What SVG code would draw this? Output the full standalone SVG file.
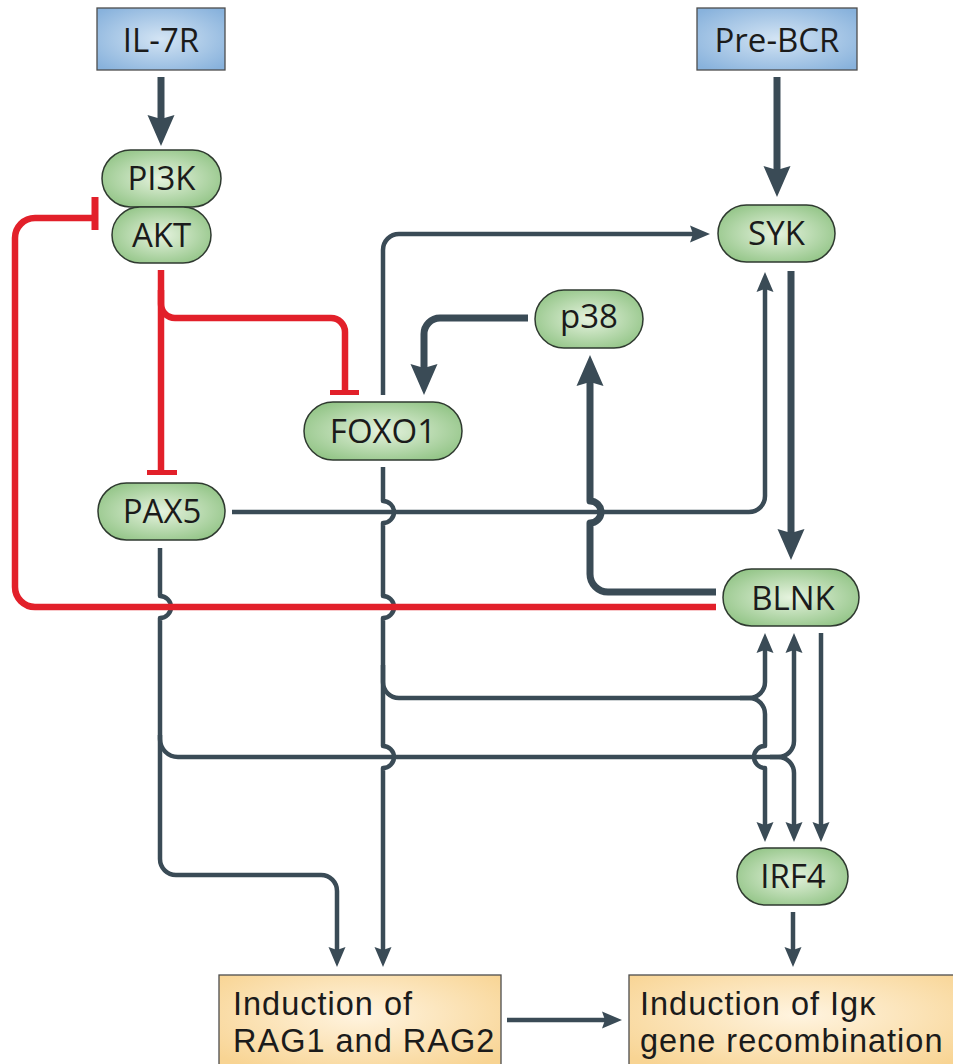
<svg xmlns="http://www.w3.org/2000/svg" width="953" height="1064" viewBox="0 0 953 1064">
<defs>
<radialGradient id="gGreen" cx="50%" cy="50%" r="62%"><stop offset="0" stop-color="#e6f3df"/><stop offset="1" stop-color="#8ec282"/></radialGradient>
<radialGradient id="gBlue" cx="50%" cy="50%" r="65%"><stop offset="0" stop-color="#d3e4f4"/><stop offset="1" stop-color="#88b2dc"/></radialGradient>
<radialGradient id="gBeige" cx="50%" cy="40%" r="65%"><stop offset="0" stop-color="#fff4e0"/><stop offset="1" stop-color="#f8d493"/></radialGradient>
<marker id="ah" markerUnits="userSpaceOnUse" orient="auto" viewBox="-20 -20 40 40" markerWidth="40" markerHeight="40" refX="0" refY="0" overflow="visible"><path d="M-6,-8.5 L14,0 L-6,8.5 L-3,0 Z" fill="#3a4b56"/></marker>
<marker id="ahT" markerUnits="userSpaceOnUse" orient="auto" viewBox="-30 -30 60 60" markerWidth="60" markerHeight="60" refX="0" refY="0" overflow="visible"><path d="M-9,-13.5 L22,0 L-9,13.5 L-5,0 Z" fill="#3a4b56"/></marker>
</defs>
<style>
.box{stroke:#4d4d4d;stroke-width:1.3}
.blue{fill:url(#gBlue)}
.beige{fill:url(#gBeige)}
.pill{fill:url(#gGreen);stroke:#2f3a30;stroke-width:1.5}
text{font-family:"Open Sans","Noto Sans","DejaVu Sans",sans-serif;font-size:33px;fill:#1b1b1b}
text.bt{font-family:"Liberation Sans",Arial,sans-serif;font-size:32.5px;letter-spacing:1px}
.c{text-anchor:middle}
.ln{fill:none;stroke:#3a4b56;stroke-linejoin:round}
.thin{stroke-width:4.5;marker-end:url(#ah)}
.thick{stroke-width:7;marker-end:url(#ahT)}
.red{fill:none;stroke:#e2202a;stroke-width:6.5}
</style>

<g id="connectors">
<path class="ln thick" d="M161,77 V124"/>
<path class="ln thick" d="M777,77 V175"/>
<path class="ln thick" d="M791,271 V538"/>
<path class="ln thick" d="M716,592 H608 A18,18 0 0 1 590,574 V523 A11,11 0 0 0 590,501 V377"/>
<path class="ln thick" d="M528,318 H440 A16,16 0 0 0 424,334 V373"/>
<path class="ln thin" d="M383,395 V250 A16,16 0 0 1 399,234 H696"/>
<path class="ln thin" d="M383,467 V501 A11,11 0 0 1 383,523 V596 A11,11 0 0 1 383,618 V746 A11,11 0 0 1 383,768 V953"/>
<path class="ln thin" d="M383,665 V682 A16,16 0 0 0 399,698 H749 A16,16 0 0 1 765,714 V746 A11,11 0 0 0 765,768 V828"/>
<path class="ln thin" d="M740,698 H749 A16,16 0 0 0 765,682 V647"/>
<path class="ln thin" d="M232,512 H749 A16,16 0 0 0 765,496 V286"/>
<path class="ln thin" d="M160,548 V596 A11,11 0 0 1 160,618 V859 A16,16 0 0 0 176,875 H321 A16,16 0 0 1 337,891 V953"/>
<path class="ln thin" d="M160,735 V739 A18,18 0 0 0 178,757 H778 A16,16 0 0 0 794,741 V647"/>
<path class="ln thin" d="M770,757 H778 A16,16 0 0 1 794,773 V828"/>
<path class="ln thin" d="M821,633 V828"/>
<path class="ln thin" d="M793,912 V953"/>
<path class="ln thin" d="M507,1020 H608"/>
<path class="red" d="M716,607 H35 A20,20 0 0 1 15,587 V238 A20,20 0 0 1 35,218 H95"/>
<path class="red" d="M95,197 V230" style="stroke-width:7"/>
<path class="red" d="M161,270 V471"/>
<path class="red" d="M147,472.5 H177" style="stroke-width:5"/>
<path class="red" d="M161,290 V304 A14,14 0 0 0 175,318 H331 A14,14 0 0 1 345,332 V391"/>
<path class="red" d="M330,392.5 H359" style="stroke-width:5"/>
</g>

<g id="IL7R"><rect class="box blue" x="97" y="8" width="128" height="62"/><text class="c" x="161" y="52">IL-7R</text></g>
<g id="PreBCR"><rect class="box blue" x="697" y="8" width="160" height="62"/><text class="c" x="777" y="52">Pre-BCR</text></g>
<g id="PI3K"><rect class="pill" x="102" y="150" width="119" height="57" rx="28.5"/><text class="c" x="161.5" y="190">PI3K</text></g>
<g id="AKT"><rect class="pill" x="112" y="207" width="99" height="56" rx="28"/><text class="c" x="161.5" y="247">AKT</text></g>
<g id="SYK"><rect class="pill" x="718" y="205" width="117" height="57" rx="28.5"/><text class="c" x="776.5" y="245">SYK</text></g>
<g id="p38"><rect class="pill" x="535" y="290" width="108" height="58" rx="29"/><text class="c" x="589" y="328">p38</text></g>
<g id="FOXO1"><rect class="pill" x="304" y="402" width="158" height="58" rx="29"/><text class="c" x="383" y="443">FOXO1</text></g>
<g id="PAX5"><rect class="pill" x="98" y="483" width="127" height="57" rx="28.5"/><text class="c" x="162" y="523">PAX5</text></g>
<g id="BLNK"><rect class="pill" x="723" y="569" width="136" height="57" rx="28.5"/><text class="c" x="793" y="610">BLNK</text></g>
<g id="IRF4"><rect class="pill" x="737" y="848" width="111" height="57" rx="28.5"/><text class="c" x="793" y="888">IRF4</text></g>
<g id="RAG"><rect class="box beige" x="219" y="975" width="282" height="100"/><text class="bt" x="233" y="1015"><tspan x="233" y="1015">Induction of</tspan><tspan x="233" y="1052">RAG1 and RAG2</tspan></text></g>
<g id="Igk"><rect class="box beige" x="629" y="975" width="340" height="100"/><text class="bt" x="640" y="1015"><tspan x="640" y="1015">Induction of Igκ</tspan><tspan x="640" y="1052">gene recombination</tspan></text></g>
</svg>
